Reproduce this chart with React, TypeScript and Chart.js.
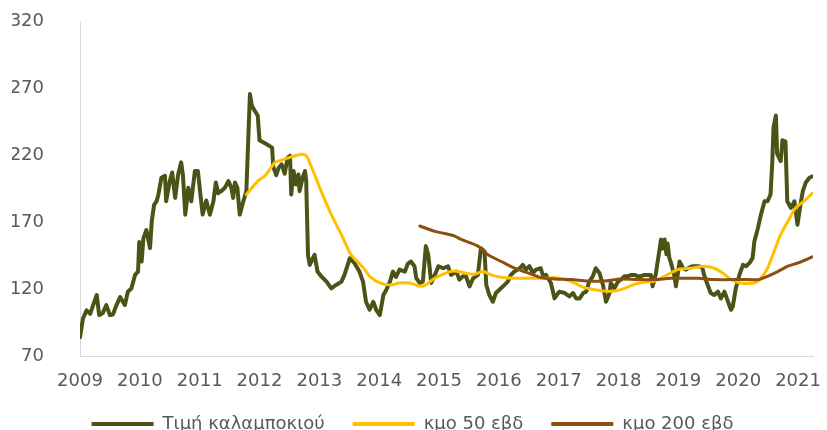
import React, { useEffect, useRef } from 'react';
import { Chart, registerables } from 'chart.js';

Chart.register(...registerables);

const seriesLabels = ['Τιμή καλαμποκιού', 'κμο 50 εβδ', 'κμο 200 εβδ'];
const seriesColors = ['#4B5316', '#FFC000', '#8B4F10'];

const yearTicks = [2009, 2010, 2011, 2012, 2013, 2014, 2015, 2016, 2017, 2018, 2019, 2020, 2021];

const priceYears = [
  2009.00, 2009.05, 2009.11, 2009.17, 2009.22, 2009.28, 2009.32, 2009.38, 2009.44, 2009.50,
  2009.55, 2009.61, 2009.67, 2009.75, 2009.80, 2009.86, 2009.92, 2009.97, 2009.99, 2010.03,
  2010.06, 2010.11, 2010.17, 2010.20, 2010.24, 2010.28, 2010.31, 2010.36, 2010.42, 2010.44,
  2010.50, 2010.54, 2010.59, 2010.64, 2010.69, 2010.72, 2010.76, 2010.81, 2010.86, 2010.92,
  2010.97, 2011.00, 2011.05, 2011.11, 2011.17, 2011.23, 2011.27, 2011.31, 2011.36, 2011.42,
  2011.48, 2011.53, 2011.56, 2011.59, 2011.63, 2011.67, 2011.73, 2011.78, 2011.84, 2011.87,
  2011.92, 2011.97, 2012.00, 2012.06, 2012.12, 2012.21, 2012.23, 2012.28, 2012.32, 2012.37,
  2012.42, 2012.47, 2012.51, 2012.53, 2012.57, 2012.61, 2012.65, 2012.67, 2012.72, 2012.76,
  2012.78, 2012.81, 2012.84, 2012.92, 2012.97, 2013.03, 2013.12, 2013.20, 2013.28, 2013.37,
  2013.42, 2013.51, 2013.59, 2013.67, 2013.73, 2013.78, 2013.84, 2013.90, 2013.95, 2014.01,
  2014.07, 2014.12, 2014.18, 2014.23, 2014.28, 2014.34, 2014.43, 2014.48, 2014.53, 2014.59,
  2014.62, 2014.68, 2014.73, 2014.78, 2014.82, 2014.87, 2014.93, 2014.99, 2015.07, 2015.15,
  2015.20, 2015.29, 2015.34, 2015.40, 2015.45, 2015.51, 2015.57, 2015.65, 2015.70, 2015.76,
  2015.79, 2015.84, 2015.90, 2015.95, 2016.01, 2016.07, 2016.15, 2016.20, 2016.26, 2016.35,
  2016.40, 2016.45, 2016.51, 2016.57, 2016.62, 2016.70, 2016.74, 2016.79, 2016.87, 2016.93,
  2017.01, 2017.10, 2017.18, 2017.24, 2017.29, 2017.35, 2017.41, 2017.46, 2017.51, 2017.57,
  2017.62, 2017.68, 2017.74, 2017.79, 2017.85, 2017.87, 2017.93, 2017.99, 2018.04, 2018.10,
  2018.16, 2018.21, 2018.27, 2018.32, 2018.37, 2018.43, 2018.49, 2018.54, 2018.57, 2018.62,
  2018.68, 2018.71, 2018.73, 2018.77, 2018.80, 2018.82, 2018.85, 2018.87, 2018.93, 2018.96,
  2019.02, 2019.08, 2019.13, 2019.18, 2019.24, 2019.35, 2019.40, 2019.43, 2019.49, 2019.54,
  2019.60, 2019.66, 2019.71, 2019.77, 2019.83, 2019.88, 2019.91, 2019.96, 2020.02, 2020.08,
  2020.13, 2020.19, 2020.24, 2020.27, 2020.33, 2020.38, 2020.44, 2020.49, 2020.54, 2020.57,
  2020.59, 2020.63, 2020.65, 2020.71, 2020.74, 2020.79, 2020.82, 2020.88, 2020.94, 2020.99,
  2021.05, 2021.08, 2021.13, 2021.19, 2021.24,
];

const priceValues = [
  84, 98, 104, 101.5, 108, 115.5, 100.5, 102, 108, 100.5,
  101, 108, 114, 108, 118, 120.5, 130.5, 133, 155, 140.5,
  158, 164, 150.5, 171, 183, 185.5, 190.5, 203, 204.5, 185.5,
  200.5, 207, 188, 205.5, 214.5, 205, 175.5, 195.5, 185.5, 208,
  208, 195.5, 175.5, 186, 175.5, 185.5, 199.5, 191.5, 193, 195.5,
  200.5, 195.5, 188, 199.5, 195.5, 175.5, 185.5, 193, 265.5, 257,
  253, 249.5, 231, 229.5, 228, 225.5, 211, 205, 210.5, 213,
  206, 218, 219.5, 190.5, 208, 198, 205.5, 193, 203, 208,
  201, 145.5, 138, 145.5, 133, 129.5, 125.5, 120.5, 123, 125.5,
  130.5, 143, 139, 133, 125.5, 110.5, 104.5, 110.5, 104.5, 100.5,
  115.5, 119.5, 125.5, 133, 129, 134.5, 133, 139, 140.5, 137,
  128, 124.5, 125.5, 152, 145.5, 124.5, 130.5, 137, 135.5, 137,
  130.5, 133, 127, 129.5, 129.5, 122, 128, 130.5, 150.5, 148,
  123, 115.5, 110.5, 117, 119.5, 122, 125.5, 130.5, 133, 135.5,
  138, 134.5, 137, 132, 134.5, 135.5, 129.5, 130.5, 124.5, 113,
  118, 117, 114.5, 117, 113, 113, 117, 118, 125.5, 129.5,
  135.5, 132, 123, 110.5, 117, 124.5, 120.5, 125.5, 127, 129.5,
  129.5, 130.5, 130.5, 129.5, 129.5, 130.5, 130.5, 130.5, 122, 130.5,
  148, 157, 150, 157, 146, 154, 143, 140.5, 130.5, 122,
  140.5, 135.5, 134.5, 136, 137, 137, 136, 130.5, 123, 117,
  115.5, 118, 113, 118, 110.5, 104.5, 107, 120.5, 130.5, 138,
  137, 139.5, 143, 155.5, 165.5, 175.5, 185.5, 185.5, 190.5, 215,
  240.5, 249.5, 221, 215.5, 231, 230, 185.5, 180.5, 185.5, 168,
  185.5, 193, 199.5, 203, 204,
];

const ma50Years = [
  2011.78, 2011.97, 2012.09, 2012.23, 2012.26, 2012.42, 2012.70, 2012.78, 2012.86, 2013.03,
  2013.20, 2013.37, 2013.53, 2013.67, 2013.76, 2013.84, 2014.01, 2014.18, 2014.34, 2014.51,
  2014.62, 2014.73, 2014.82, 2014.93, 2015.04, 2015.18, 2015.26, 2015.43, 2015.59, 2015.74,
  2015.87, 2016.07, 2016.32, 2016.54, 2016.76, 2016.93, 2017.10, 2017.26, 2017.43, 2017.60,
  2017.76, 2017.93, 2018.10, 2018.27, 2018.43, 2018.60, 2018.77, 2018.99, 2019.21, 2019.43,
  2019.60, 2019.74, 2019.88, 2020.04, 2020.27, 2020.38, 2020.49, 2020.60, 2020.71, 2020.83,
  2020.96, 2021.10, 2021.24,
];

const ma50Values = [
  190.5, 200.5, 204.5, 213, 214.5, 217, 220.5, 219.5, 212, 193,
  175.5, 160.5, 145.5, 139, 134.5, 129.5, 124.5, 123, 124.5, 124.5,
  123, 122, 124.5, 128, 130.5, 133, 133.5, 132, 131, 133,
  130.5, 128.5, 128, 128, 128, 128.5, 127, 124.5, 121, 119.5,
  118.5, 118.5, 120.5, 123.5, 125, 126, 129.5, 134.5, 135.5, 137,
  135.5, 132, 127, 124.5, 124.5, 128, 135.5, 148, 160.5, 170.5,
  180.5, 185.5, 191.5,
];

const ma200Years = [
  2014.68, 2014.93, 2015.09, 2015.26, 2015.37, 2015.65, 2015.82, 2016.04, 2016.26, 2016.49,
  2016.70, 2016.93, 2017.21, 2017.49, 2017.76, 2018.04, 2018.32, 2018.60, 2018.87, 2019.04,
  2019.33, 2019.60, 2019.88, 2020.16, 2020.33, 2020.49, 2020.66, 2020.83, 2021.00, 2021.24,
];

const ma200Values = [
  167, 163, 161.5, 159.5, 157, 152, 145.5, 140.5, 135.5, 132,
  128.5, 127.5, 127, 126, 126, 127.5, 127, 127, 128, 128,
  128, 127, 127, 127, 127, 129.5, 133, 137, 139.5, 144,
];

const toPoints = (xs: number[], ys: number[]) => xs.map((x, i) => ({ x, y: ys[i] }));

const FONT = "'DejaVu Sans', 'Noto Sans', sans-serif";
const TEXT_COLOR = '#595959';
const AXIS_COLOR = '#D9D9D9';

export default function App() {
  const canvasRef = useRef<HTMLCanvasElement | null>(null);

  useEffect(() => {
    if (!canvasRef.current) return;
    const chart = new Chart(canvasRef.current, {
      type: 'line',
      data: {
        datasets: [
          {
            label: seriesLabels[0],
            data: toPoints(priceYears, priceValues),
            borderColor: seriesColors[0],
            backgroundColor: seriesColors[0],
            borderWidth: 4,
            pointRadius: 0,
            tension: 0,
            borderJoinStyle: 'round',
            borderCapStyle: 'round',
            order: 3,
          },
          {
            label: seriesLabels[1],
            data: toPoints(ma50Years, ma50Values),
            borderColor: seriesColors[1],
            backgroundColor: seriesColors[1],
            borderWidth: 3,
            pointRadius: 0,
            tension: 0.3,
            borderJoinStyle: 'round',
            borderCapStyle: 'round',
            order: 2,
          },
          {
            label: seriesLabels[2],
            data: toPoints(ma200Years, ma200Values),
            borderColor: seriesColors[2],
            backgroundColor: seriesColors[2],
            borderWidth: 3,
            pointRadius: 0,
            tension: 0.3,
            borderJoinStyle: 'round',
            borderCapStyle: 'round',
            order: 1,
          },
        ],
      },
      options: {
        animation: false,
        responsive: true,
        maintainAspectRatio: false,
        layout: { padding: { left: 12, right: 14, top: 21, bottom: 0 } },
        plugins: {
          tooltip: { enabled: false },
          legend: {
            position: 'bottom',
            labels: {
              boxWidth: 62,
              boxHeight: 4,
              padding: 28,
              color: TEXT_COLOR,
              font: { family: FONT, size: 18 },
              sort: (a: any, b: any) => a.datasetIndex - b.datasetIndex,
              generateLabels: (c: any) =>
                Chart.defaults.plugins.legend.labels.generateLabels(c).map((l: any) => ({ ...l, lineWidth: 0 })),
            },
          },
        },
        scales: {
          x: {
            type: 'linear',
            min: 2009,
            max: 2021.25,
            grid: { display: false },
            border: { display: true, color: AXIS_COLOR, width: 1 },
            afterBuildTicks: (axis: any) => {
              axis.ticks = yearTicks.map((v) => ({ value: v }));
            },
            afterFit: (axis: any) => {
              axis.height = 31;
              axis.paddingLeft = 0;
              axis.paddingRight = 0;
            },
            ticks: {
              autoSkip: false,
              maxRotation: 0,
              padding: 7,
              color: TEXT_COLOR,
              font: { family: FONT, size: 18 },
              callback: (v: any) => String(v),
            },
          },
          y: {
            min: 70,
            max: 320,
            grid: { display: false },
            border: { display: true, color: AXIS_COLOR, width: 1 },
            afterFit: (axis: any) => {
              axis.width = 68;
              axis.paddingTop = 0;
              axis.paddingBottom = 0;
            },
            ticks: {
              stepSize: 50,
              padding: 28,
              color: TEXT_COLOR,
              font: { family: FONT, size: 18 },
            },
          },
        },
      },
    } as any);
    return () => chart.destroy();
  }, []);

  return (
    <div style={{ position: 'absolute', left: 0, top: 0, width: 827, height: 430, overflow: 'hidden', background: '#fff' }}>
      <div style={{ position: 'relative', width: 827, height: 443 }}>
        <canvas ref={canvasRef} />
      </div>
    </div>
  );
}
